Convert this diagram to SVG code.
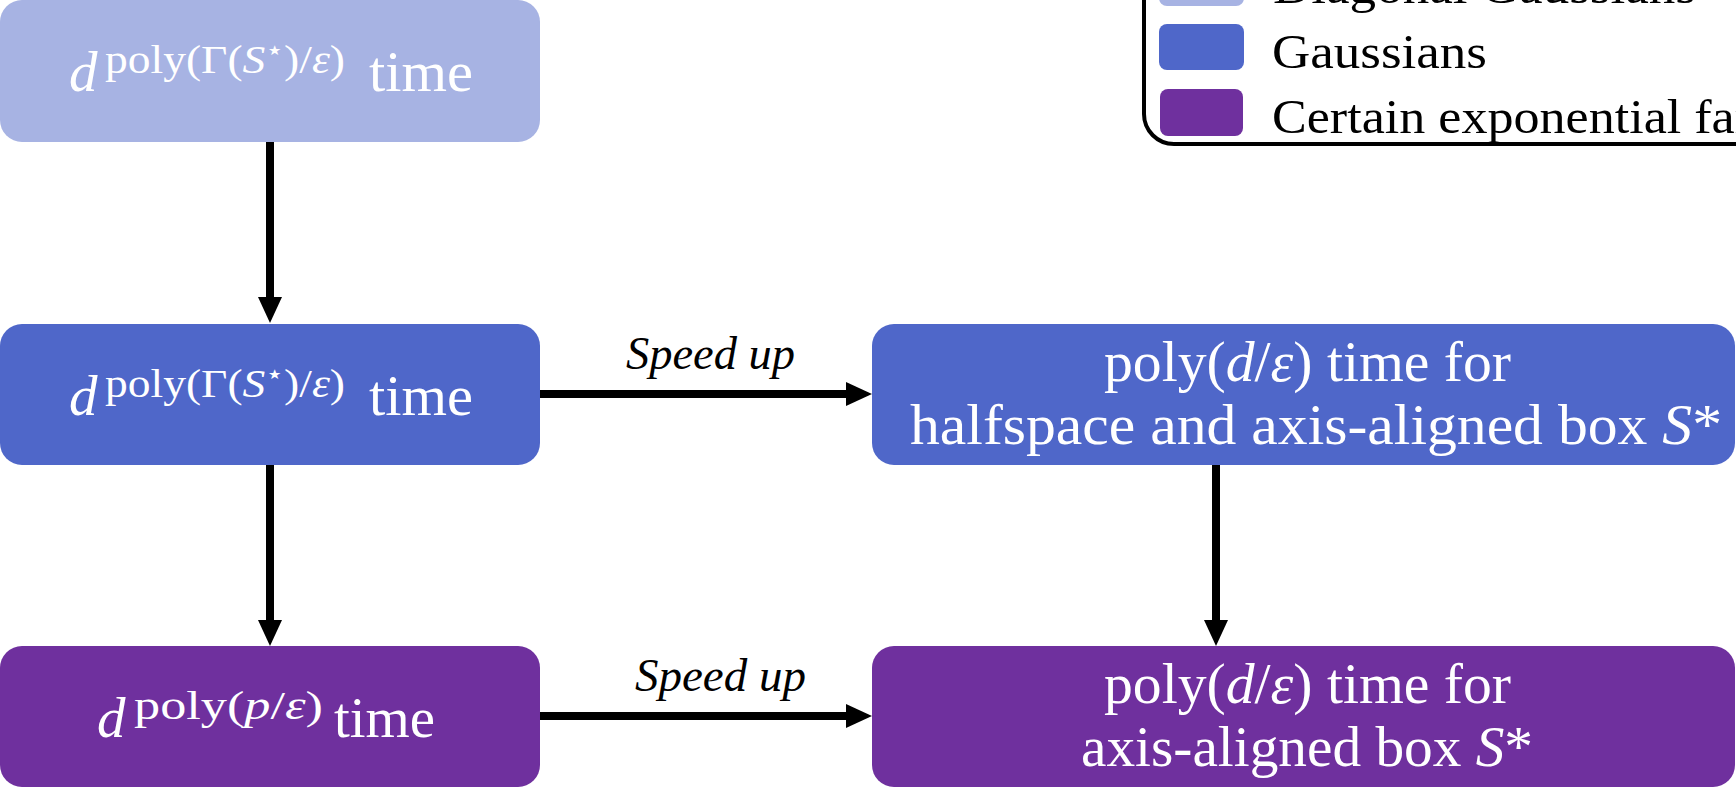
<svg xmlns="http://www.w3.org/2000/svg" width="1736" height="787" viewBox="0 0 1736 787">
  <style>
    text { font-family: "Liberation Serif", "Times New Roman", serif; }
    .w { fill: #ffffff; }
    .k { fill: #000000; }
    .main { font-size: 57px; }
    .sup { font-size: 41px; }
    .leg { font-size: 48px; }
    .lab { font-size: 46px; font-style: italic; }
    .it { font-style: italic; }
    .star { font-family: "DejaVu Sans", sans-serif; font-size: 27px; }
    .diag { fill: #a7b3e3; }
    .gauss { fill: #4f67c9; }
    .expo { fill: #6f309e; }
    .edge { stroke: #000000; stroke-width: 8; fill: none; marker-end: url(#head); }
  </style>
  <defs>
    <marker id="head" markerUnits="userSpaceOnUse" markerWidth="28" markerHeight="26" refX="2" refY="12" orient="auto">
      <path d="M0,0 L26,12 L0,24 Z" fill="#000000"/>
    </marker>
  </defs>

  <rect x="0" y="0" width="1736" height="787" fill="#ffffff"/>

  <!-- legend -->
  <g id="legend">
    <rect x="1144" y="-120" width="720" height="264" rx="30" ry="30" fill="#ffffff" stroke="#000000" stroke-width="4"/>
    <rect class="diag" x="1159" y="-40" width="85" height="46" rx="8"/>
    <rect class="gauss" x="1159" y="24" width="85" height="46" rx="8"/>
    <rect class="expo" x="1160" y="89" width="83" height="47" rx="8"/>
    <text class="leg k" x="1273" y="3" textLength="423" lengthAdjust="spacingAndGlyphs">Diagonal Gaussians</text>
    <text class="leg k" x="1272" y="68" textLength="215" lengthAdjust="spacingAndGlyphs">Gaussians</text>
    <text class="leg k" x="1272" y="133" textLength="590" lengthAdjust="spacingAndGlyphs">Certain exponential families</text>
  </g>

  <!-- connectors -->
  <g id="connectors">
    <line class="edge" x1="270" y1="142" x2="270" y2="299"/>
    <line class="edge" x1="270" y1="465" x2="270" y2="622"/>
    <line class="edge" x1="540" y1="394" x2="848" y2="394"/>
    <line class="edge" x1="540" y1="716" x2="848" y2="716"/>
    <line class="edge" x1="1216" y1="465" x2="1216" y2="622"/>
    <text class="lab k" x="626" y="369" textLength="169" lengthAdjust="spacingAndGlyphs">Speed up</text>
    <text class="lab k" x="635" y="691" textLength="171" lengthAdjust="spacingAndGlyphs">Speed up</text>
  </g>

  <!-- diagonal Gaussians: general sets -->
  <g id="diag-general">
    <rect class="diag" x="0" y="0" width="540" height="142" rx="22"/>
    <text class="main w it" x="69" y="91">d</text>
    <text class="sup w" x="105" y="73" textLength="240" lengthAdjust="spacingAndGlyphs">poly(Γ(<tspan class="it">S</tspan><tspan class="star" dy="-14">⋆</tspan><tspan dy="14">)/</tspan><tspan class="it">ε</tspan>)</text>
    <text class="main w" x="369" y="91" textLength="104" lengthAdjust="spacingAndGlyphs">time</text>
  </g>

  <!-- Gaussians: general sets -->
  <g id="gauss-general">
    <rect class="gauss" x="0" y="324" width="540" height="141" rx="22"/>
    <text class="main w it" x="69" y="415">d</text>
    <text class="sup w" x="105" y="397" textLength="240" lengthAdjust="spacingAndGlyphs">poly(Γ(<tspan class="it">S</tspan><tspan class="star" dy="-14">⋆</tspan><tspan dy="14">)/</tspan><tspan class="it">ε</tspan>)</text>
    <text class="main w" x="369" y="415" textLength="104" lengthAdjust="spacingAndGlyphs">time</text>
  </g>

  <!-- Gaussians: halfspace and box -->
  <g id="gauss-box">
    <rect class="gauss" x="872" y="324" width="863" height="141" rx="22"/>
    <text class="main w" x="1104" y="381" textLength="407" lengthAdjust="spacingAndGlyphs">poly(<tspan class="it">d</tspan>/<tspan class="it">ε</tspan>) time for</text>
    <text class="main w" x="910" y="444" textLength="812" lengthAdjust="spacingAndGlyphs">halfspace and axis-aligned box <tspan class="it">S</tspan>*</text>
  </g>

  <!-- exponential families: general sets -->
  <g id="expo-general">
    <rect class="expo" x="0" y="646" width="540" height="141" rx="22"/>
    <text class="main w it" x="97" y="737">d</text>
    <text class="sup w" x="134" y="719" textLength="189" lengthAdjust="spacingAndGlyphs">poly(<tspan class="it">p</tspan>/<tspan class="it">ε</tspan>)</text>
    <text class="main w" x="334" y="737" textLength="101" lengthAdjust="spacingAndGlyphs">time</text>
  </g>

  <!-- exponential families: box -->
  <g id="expo-box">
    <rect class="expo" x="872" y="646" width="863" height="141" rx="22"/>
    <text class="main w" x="1104" y="703" textLength="407" lengthAdjust="spacingAndGlyphs">poly(<tspan class="it">d</tspan>/<tspan class="it">ε</tspan>) time for</text>
    <text class="main w" x="1081" y="766" textLength="452" lengthAdjust="spacingAndGlyphs">axis-aligned box <tspan class="it">S</tspan>*</text>
  </g>
</svg>
